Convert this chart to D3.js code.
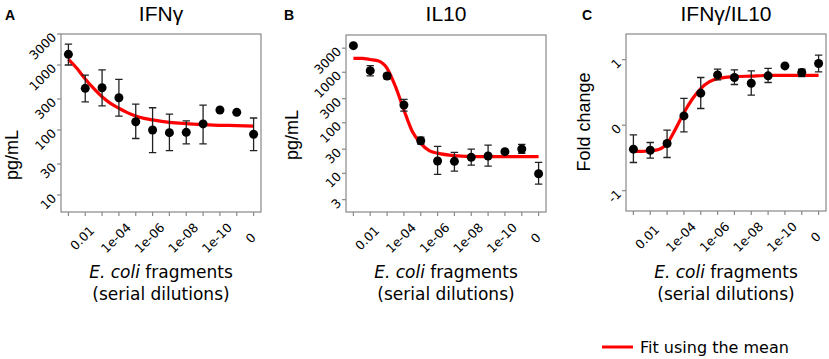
<!DOCTYPE html>
<html>
<head>
<meta charset="utf-8">
<script src="https://cdn.jsdelivr.net/npm/d3@7"></script>
<style>
body { margin: 0; background: #fff; }
svg { display: block; }
</style>
</head>
<body>
<div class="content"></div>
<script>
// dilution steps (1 = 0.1 ... 11 = 1e-11, 12 = no fragments)
var dilutionPos = [1, 2, 3, 4, 5, 6, 7, 8, 9, 10, 11, 12];
var dilutionLabels = ['', '0.01', '', '1e-04', '', '1e-06', '', '1e-08', '', '1e-10', '', '0'];

var ifngTicks = [10, 30, 100, 300, 1000, 3000];
var il10Ticks = [3, 10, 30, 100, 300, 1000, 3000];
var ratioTicks = [-1, 0, 1];

var ifngMean = [1460, 437, 447, 314, 134, 100, 91, 92, 124, 203, 187, 86];
var ifngLow  = [1000, 270, 235, 163, 74, 45, 48, 61, 61, null, null, 48];
var ifngHigh = [2100, 700, 840, 600, 250, 220, 175, 138, 242, null, null, 153];

var il10Mean = [3360, 1075, 845, 225, 44, 17.5, 17.2, 20.7, 22, 26.8, 30.3, 9.8];
var il10Low  = [null, 850, 740, 170, 38, 9.5, 11, 14.5, 13.9, null, 24.9, 6.1];
var il10High = [null, 1350, 950, 290, 52, 34, 26, 30, 36, null, 37.5, 16.5];

var ratioMean = [-0.366, -0.382, -0.28, 0.142, 0.489, 0.768, 0.728, 0.641, 0.753, 0.905, 0.804, 0.942];
var ratioLow  = [-0.57, -0.504, -0.493, -0.102, 0.255, 0.692, 0.621, 0.458, 0.652, null, 0.743, 0.814];
var ratioHigh = [-0.148, -0.264, -0.076, 0.408, 0.728, 0.855, 0.845, 0.829, 0.866, null, 0.855, 1.069];

// fitted curves
var fitPos   = [1, 1.5, 2, 2.5, 3, 3.5, 4, 4.5, 5, 5.5, 6, 7, 8, 9, 10, 11, 12];
var ifngFit  = [1220, 890, 610, 437, 325, 257, 216, 185, 164, 151, 143, 131, 125, 121, 118, 117, 115];
var il10Fit  = [1890, 1880, 1790, 1675, 1200, 519, 179, 67, 39, 28, 25, 22.3, 21.5, 21.3, 21.3, 21.3, 21.3];
var ratioFit = [-0.40, -0.40, -0.39, -0.37, -0.28, -0.06, 0.19, 0.40, 0.56, 0.66, 0.71, 0.74, 0.75, 0.76, 0.76, 0.76, 0.76];

var W = 829, H = 359;
var titleFont = "'Liberation Sans', Arial, sans-serif";
var bodyFont = "'DejaVu Sans', Verdana, sans-serif";

var svg = d3.select('.content').append('svg')
    .attr('width', W)
    .attr('height', H);

function drawPanel(p) {
    var g = svg.append('g');
    var x = d3.scaleLinear().domain([0.56, 12.44]).range([p.left, p.left + 200]);
    var y = (p.log ? d3.scaleLog() : d3.scaleLinear()).domain(p.ydomain).range([p.bottom, p.top]);

    // box
    g.append('rect')
        .attr('x', p.left).attr('y', p.top)
        .attr('width', 200).attr('height', p.bottom - p.top)
        .style('fill', 'none').style('stroke', '#888').style('stroke-width', 1.2);

    // y axis ticks + rotated labels
    g.selectAll('.ytick').data(p.yticks).enter().append('line')
        .attr('x1', p.left - 4).attr('x2', p.left)
        .attr('y1', function(d) { return y(d); }).attr('y2', function(d) { return y(d); })
        .style('stroke', '#888').style('stroke-width', 1.2);
    g.selectAll('.ylab').data(p.yticks).enter().append('text')
        .attr('transform', function(d) { return 'translate(' + (p.left - 7) + ',' + (y(d) + 1) + ') rotate(-45)'; })
        .attr('dy', '0.35em')
        .style('text-anchor', 'end')
        .style('font-family', bodyFont).style('font-size', '12.5px').style('fill', '#000')
        .text(function(d) { return d; });

    // x axis ticks + rotated labels
    g.selectAll('.xtick').data(dilutionPos).enter().append('line')
        .attr('x1', function(d) { return x(d); }).attr('x2', function(d) { return x(d); })
        .attr('y1', p.bottom).attr('y2', p.bottom + 4)
        .style('stroke', '#888').style('stroke-width', 1.2);
    g.selectAll('.xlab').data(dilutionPos).enter().append('text')
        .attr('transform', function(d) { return 'translate(' + (x(d) - 3) + ',' + (p.bottom + 26) + ') rotate(-45)'; })
        .attr('dy', '0.35em')
        .style('text-anchor', 'middle')
        .style('font-family', bodyFont).style('font-size', '12.5px').style('fill', '#000')
        .text(function(d, i) { return dilutionLabels[i]; });

    // fit curve
    var line = d3.line()
        .x(function(d, i) { return x(fitPos[i]); })
        .y(function(d) { return y(d); })
        .curve(d3.curveMonotoneX);
    g.append('path')
        .attr('d', line(p.fit))
        .style('fill', 'none').style('stroke', '#ff0000').style('stroke-width', 3.2);

    // error bars
    var errIdx = dilutionPos.map(function(d, i) { return i; }).filter(function(i) { return p.low[i] != null; });
    g.selectAll('.err').data(errIdx).enter().append('path')
        .attr('d', function(i) {
            var cx = x(dilutionPos[i]), y0 = y(p.low[i]), y1 = y(p.high[i]);
            return 'M' + (cx - 3.7) + ',' + y1 + 'H' + (cx + 3.7) +
                   'M' + cx + ',' + y1 + 'V' + y0 +
                   'M' + (cx - 3.7) + ',' + y0 + 'H' + (cx + 3.7);
        })
        .style('fill', 'none').style('stroke', '#222').style('stroke-width', 1.3);

    // points
    g.selectAll('.pt').data(p.mean).enter().append('circle')
        .attr('cx', function(d, i) { return x(dilutionPos[i]); })
        .attr('cy', function(d) { return y(d); })
        .attr('r', 4.5)
        .style('fill', '#000');

    // titles
    g.append('text')
        .attr('x', p.left + 100).attr('y', 21)
        .style('text-anchor', 'middle')
        .style('font-family', titleFont).style('font-size', '21px').style('fill', '#000')
        .text(p.title);
    g.append('text')
        .attr('x', p.letterX).attr('y', 20)
        .style('font-family', titleFont).style('font-size', '14px').style('font-weight', 'bold')
        .text(p.letter);
    g.append('text')
        .attr('transform', 'translate(' + p.ylabX + ',' + p.ylabY + ') rotate(-90)')
        .style('text-anchor', 'middle')
        .style('font-family', titleFont).style('font-size', '18px').style('fill', '#000')
        .text(p.ylab);

    var xt = g.append('text')
        .attr('x', p.left + 100).attr('y', 278)
        .style('text-anchor', 'middle')
        .style('font-family', bodyFont).style('font-size', '17px').style('fill', '#000');
    xt.append('tspan').style('font-style', 'italic').text('E. coli');
    xt.append('tspan').text(' fragments');
    g.append('text')
        .attr('x', p.left + 100).attr('y', 300)
        .style('text-anchor', 'middle')
        .style('font-family', bodyFont).style('font-size', '17px').style('fill', '#000')
        .text('(serial dilutions)');
}

drawPanel({
    letter: 'A', letterX: 5, title: 'IFNγ', ylab: 'pg/mL', ylabX: 18, ylabY: 155,
    left: 61, top: 34, bottom: 212, log: true, ydomain: [Math.pow(10, 0.738), 3000],
    yticks: ifngTicks, mean: ifngMean, low: ifngLow, high: ifngHigh, fit: ifngFit
});
drawPanel({
    letter: 'B', letterX: 284, title: 'IL10', ylab: 'pg/mL', ylabX: 298, ylabY: 135,
    left: 346, top: 35, bottom: 212, log: true, ydomain: [Math.pow(10, 0.233), Math.pow(10, 3.738)],
    yticks: il10Ticks, mean: il10Mean, low: il10Low, high: il10High, fit: il10Fit
});
drawPanel({
    letter: 'C', letterX: 582, title: 'IFNγ/IL10', ylab: 'Fold change', ylabX: 590, ylabY: 122,
    left: 626, top: 34, bottom: 211, log: false, ydomain: [-1.31, 1.392],
    yticks: ratioTicks, mean: ratioMean, low: ratioLow, high: ratioHigh, fit: ratioFit
});

// legend
var legend = svg.append('g');
legend.append('line')
    .attr('x1', 602).attr('x2', 633).attr('y1', 347).attr('y2', 347)
    .style('stroke', '#ff0000').style('stroke-width', 3);
legend.append('text')
    .attr('x', 640).attr('y', 352.5)
    .style('font-family', bodyFont).style('font-size', '16px').style('fill', '#000')
    .text('Fit using the mean');
</script>
</body>
</html>
